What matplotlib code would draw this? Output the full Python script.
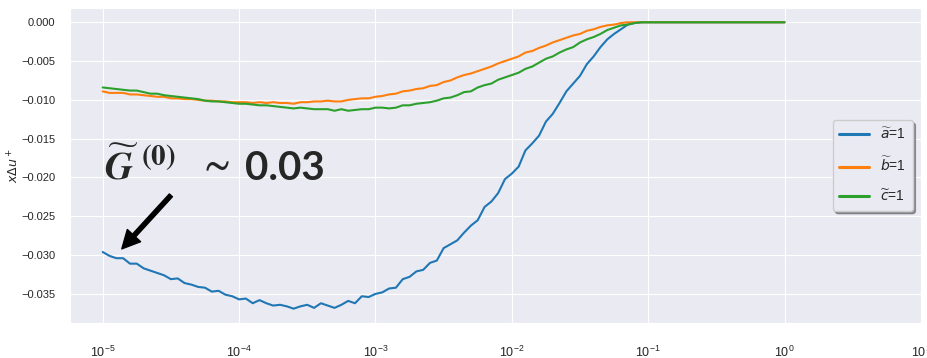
import numpy as np
import matplotlib
matplotlib.use("Agg")
import matplotlib.pyplot as plt
import seaborn as sns

sns.set_style("darkgrid")
plt.rcParams["font.family"] = ["Liberation Sans", "DejaVu Sans"]

# sample grid: 20 points per decade, 1e-5 .. 1
x = np.logspace(-5, 0, 101)

u_a = [-0.0296, -0.0301, -0.0304, -0.0304, -0.0311, -0.0311, -0.0317, -0.0320, -0.0323, -0.0326,
       -0.0331, -0.0330, -0.0336, -0.0338, -0.0341, -0.0342, -0.0347, -0.0346, -0.0351, -0.0353,
       -0.0357, -0.0356, -0.0362, -0.0358, -0.0362, -0.0365, -0.0364, -0.0366, -0.0369, -0.0366,
       -0.0364, -0.0368, -0.0362, -0.0365, -0.0368, -0.0364, -0.0359, -0.0362, -0.0353, -0.0354,
       -0.0350, -0.0348, -0.0343, -0.0342, -0.0331, -0.0328, -0.0321, -0.0319, -0.0310, -0.0307,
       -0.0291, -0.0286, -0.0281, -0.0271, -0.0262, -0.0255, -0.0238, -0.0231, -0.0220, -0.0202,
       -0.0195, -0.0186, -0.0165, -0.0156, -0.0146, -0.0128, -0.0118, -0.0104, -0.0089, -0.0079,
       -0.0069, -0.0054, -0.0044, -0.0032, -0.0022, -0.0015, -0.0009, -0.0003, -0.0001, 0.0,
       0.0, 0.0, 0.0, 0.0, 0.0, 0.0, 0.0, 0.0, 0.0, 0.0,
       0.0, 0.0, 0.0, 0.0, 0.0, 0.0, 0.0, 0.0, 0.0, 0.0, 0.0]

u_b = [-0.0089, -0.0091, -0.0091, -0.0091, -0.0093, -0.0093, -0.0094, -0.0095, -0.0096, -0.0096,
       -0.0098, -0.0098, -0.0099, -0.0099, -0.0100, -0.0101, -0.0101, -0.0102, -0.0102, -0.0103,
       -0.0103, -0.0103, -0.0104, -0.0103, -0.0104, -0.0103, -0.0104, -0.0104, -0.0105, -0.0103,
       -0.0103, -0.0102, -0.0102, -0.0101, -0.0102, -0.0102, -0.0100, -0.0099, -0.0098, -0.0098,
       -0.0096, -0.0095, -0.0093, -0.0092, -0.0089, -0.0088, -0.0086, -0.0085, -0.0082, -0.0081,
       -0.0077, -0.0075, -0.0071, -0.0068, -0.0066, -0.0063, -0.0060, -0.0057, -0.0053, -0.0050,
       -0.0047, -0.0044, -0.0039, -0.0037, -0.0033, -0.0030, -0.0026, -0.0023, -0.0020, -0.0017,
       -0.0015, -0.0011, -0.0009, -0.0006, -0.0004, -0.0003, -0.0001, 0.0, 0.0, 0.0,
       0.0, 0.0, 0.0, 0.0, 0.0, 0.0, 0.0, 0.0, 0.0, 0.0,
       0.0, 0.0, 0.0, 0.0, 0.0, 0.0, 0.0, 0.0, 0.0, 0.0, 0.0]

u_c = [-0.0084, -0.0085, -0.0086, -0.0087, -0.0088, -0.0088, -0.0090, -0.0092, -0.0092, -0.0094,
       -0.0095, -0.0096, -0.0097, -0.0098, -0.0099, -0.0101, -0.0102, -0.0102, -0.0103, -0.0104,
       -0.0105, -0.0105, -0.0106, -0.0107, -0.0107, -0.0108, -0.0109, -0.0110, -0.0111, -0.0110,
       -0.0111, -0.0112, -0.0112, -0.0112, -0.0114, -0.0112, -0.0114, -0.0113, -0.0112, -0.0112,
       -0.0110, -0.0110, -0.0111, -0.0110, -0.0107, -0.0107, -0.0105, -0.0104, -0.0103, -0.0101,
       -0.0098, -0.0097, -0.0094, -0.0090, -0.0089, -0.0084, -0.0081, -0.0079, -0.0074, -0.0071,
       -0.0068, -0.0065, -0.0060, -0.0057, -0.0052, -0.0047, -0.0044, -0.0039, -0.0035, -0.0032,
       -0.0026, -0.0022, -0.0019, -0.0015, -0.0010, -0.0007, -0.0004, -0.0003, -0.0001, 0.0,
       0.0, 0.0, 0.0, 0.0, 0.0, 0.0, 0.0, 0.0, 0.0, 0.0,
       0.0, 0.0, 0.0, 0.0, 0.0, 0.0, 0.0, 0.0, 0.0, 0.0, 0.0]

labels = [r"$\widetilde{a}$=1", r"$\widetilde{b}$=1", r"$\widetilde{c}$=1"]
colors = ["#1f77b4", "#ff7f0e", "#2ca02c"]
xticks = [1e-5, 1e-4, 1e-3, 1e-2, 1e-1, 1e0, 1e1]

fig = plt.figure(figsize=(9.28, 3.58), dpi=100)
ax = fig.add_axes([0.0754, 0.0978, 0.917, 0.880])

for y, lab, c in zip([u_a, u_b, u_c], labels, colors):
    ax.plot(x, y, color=c, lw=1.5, label=lab)

ax.set_xscale("log")
ax.set_xticks(xticks)
ax.set_xlim(10 ** -5.24, 10 ** 1)
ax.set_yticks(np.arange(-0.035, 0.0001, 0.005))
ax.minorticks_off()
ax.tick_params(axis="y", labelsize=8, pad=7)
ax.tick_params(axis="x", labelsize=9, pad=12)
ax.set_ylabel(r"$x\Delta u^+$", fontsize=9)
ax.yaxis.set_label_coords(-0.057, 0.5)

leg = ax.legend(loc="center right", fontsize=10, frameon=True, shadow=True,
                fancybox=True, borderaxespad=0.6, handlelength=2.1,
                labelspacing=1.0, borderpad=0.5)
for h in leg.get_lines():
    h.set_linewidth(2.2)

# big annotation: G~(0) ~ 0.03 with arrow to the start of the a=1 curve
ax.annotate("", xy=(10 ** -4.86, -0.0292), xytext=(10 ** -4.5, -0.0223),
            arrowprops=dict(facecolor="black", edgecolor="black", width=3,
                            headwidth=13, headlength=13))
ax.text(0.040, 0.455, r"$\widetilde{\mathbfit{G}}$", transform=ax.transAxes,
        fontsize=28, math_fontfamily="stix", ha="left", va="baseline")
ax.text(0.083, 0.50, r"$\mathbf{(0)}$", transform=ax.transAxes,
        fontsize=21, math_fontfamily="stix", ha="left", va="baseline")
ax.text(0.151, 0.475, r"$\mathbf{\sim}$", transform=ax.transAxes,
        fontsize=26, math_fontfamily="stix", ha="left", va="baseline")
ax.text(0.206, 0.455, "0.03", transform=ax.transAxes, fontsize=29,
        fontweight="bold", family=["Lato", "DejaVu Sans"],
        ha="left", va="baseline")

fig.savefig("out.png", dpi=100)
